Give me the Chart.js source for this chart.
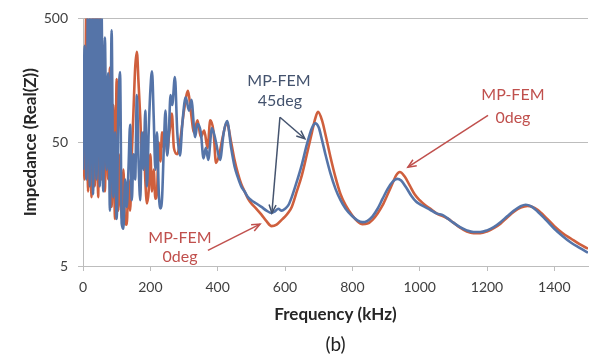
<!DOCTYPE html>
<html><head><meta charset="utf-8">
<script src="https://cdn.jsdelivr.net/npm/chart.js@4/dist/chart.umd.min.js"></script>
<style>html,body{margin:0;padding:0;background:#fff;}#wrap{width:602px;height:361px;position:relative;}</style>
</head><body><div id="wrap"><canvas id="c"></canvas></div>
<script>
// ---- data ----
const freq0deg = [0,5,10,15,20,25,30,35,40,45,50,55,60,65,70,75,80,85,90,95,100,105,110,115,120,125,130,135,140,145,150,155,160,165,170,175,180,185,190,195,200,205,210,215,220,225,230,235,240,245,250,255,260,264,270,280,290,300,312,320,330,340,350,360,370,378,388,395,405,415,427,440,450,460,470,480,490,500,515,530,545,560,575,590,600,610,620,635,650,665,680,690,698,710,720,735,750,765,780,800,815,830,845,860,875,890,905,920,930,941,955,970,985,1000,1015,1030,1050,1070,1085,1100,1120,1140,1160,1180,1200,1220,1240,1260,1280,1300,1320,1335,1350,1375,1400,1425,1450,1475,1500];
const imp0deg = [50,25,700,20,500,18,800,22,600,18,900,25,300,20,150,25,200,15,100,12,162,14,40,12,30,11,10.8,25,14,40,90,200,269,150,80,40,60,25,16,20,40,20,30,17.5,20,50,35,60,45,60,40,55,70,85,45,40,55,90,130,90,60,75,55,62,45,75,60,34,40,55,72,50,36,28,23,20,17.5,16,14.5,13,11.5,10.5,10.8,11.8,12.5,13.5,15,20,27,40,60,78,88,75,58,38,26,19,15.5,12.8,11.5,10.9,11,11.8,13.3,15.5,19,23.5,27,28.7,26.5,22.5,19,17,15.6,14.6,13.3,12.6,12,11.2,10.2,9.5,9.2,9.2,9.5,10.1,11,12.3,13.7,14.8,15.3,15,14.2,12.3,10.5,9.2,8.3,7.5,6.9];
const freq45deg = [0,5,10,15,20,25,30,35,40,45,50,55,60,65,70,75,80,85,90,95,100,105,110,115,120,125,130,135,140,145,150,155,160,165,170,175,180,185,190,195,200,205,210,215,220,225,230,235,240,245,250,255,260,265,273,280,288,295,305,315,322,333,340,350,358,365,372,383,395,407,418,428,440,450,460,470,480,490,500,515,530,545,560,570,580,590,600,610,620,635,650,665,680,690,700,710,720,735,750,765,780,800,815,830,845,860,875,890,905,920,933,945,960,975,990,1000,1015,1030,1050,1070,1085,1100,1120,1140,1160,1180,1200,1220,1240,1260,1280,1300,1315,1330,1350,1375,1400,1425,1450,1475,1500];
const imp45deg = [30,300,25,800,22,900,19,700,25,1000,22,600,20,350,30,180,14,400,18,60,12,90,184,11,10,25,15,30,69,17,40,25,120,35,17,60,30,90,22,60,130,187,80,30,60,20,14.6,18,45,90,39,60,120,100,168,60,39,70,115,90,110,55,70,60,37,45,36,65,50,36,60,74,45,32,26,22,20,18,17,16,15,14,13.4,13.8,14.5,14,14.5,15.5,18,24,33,48,65,71,66,52,40,28,21,17,14.5,12.6,11.7,11.3,11.6,12.6,14.5,17.5,21,24,25.3,24.5,21.5,18.5,16.5,15.8,15,14.3,13.3,12.8,12,11.2,10.3,9.7,9.4,9.4,9.7,10.3,11.3,12.6,14,15.2,15.6,15.2,13.8,11.8,10,8.7,7.7,7,6.4];
const xTicks = [0,200,400,600,800,1000,1200,1400];
const yTicks = [5,50,500];
const seriesNames = ['MP-FEM 0deg','MP-FEM 45deg'];

// annotation texts and arrows, in data coordinates
const noteTexts = [
  {t:'MP-FEM', x:288, y:8.47, c:'#c0504d'}, {t:'0deg', x:288, y:5.89, c:'#c0504d'},
  {t:'MP-FEM', x:582, y:156, c:'#44536e'}, {t:'45deg', x:585, y:108, c:'#44536e'},
  {t:'MP-FEM', x:1277, y:121, c:'#c0504d'}, {t:'0deg', x:1277, y:78, c:'#c0504d'}
];
const noteArrows = [
  {x1:371, y1:6.69, x2:526, y2:10.9, c:'#c0504d'},
  {x1:585, y1:79.6, x2:561, y2:13.4, c:'#44536e'},
  {x1:585, y1:79.6, x2:659, y2:53.3, c:'#44536e'},
  {x1:1203, y1:82.4, x2:965, y2:31.4, c:'#c0504d'}
];

const pts = (fx, vy) => fx.map((f, i) => ({x: f, y: vy[i]}));

const notesPlugin = {
  id: 'notes',
  afterDatasetsDraw(chart) {
    const {ctx, scales: {x, y}} = chart;
    ctx.save();
    ctx.font = '16px Lato, "Open Sans", sans-serif';
    ctx.textAlign = 'center';
    ctx.textBaseline = 'middle';
    noteTexts.forEach(n => { ctx.fillStyle = n.c; ctx.fillText(n.t, x.getPixelForValue(n.x), y.getPixelForValue(n.y)); });
    noteArrows.forEach(a => {
      const x1 = x.getPixelForValue(a.x1), y1 = y.getPixelForValue(a.y1);
      const x2 = x.getPixelForValue(a.x2), y2 = y.getPixelForValue(a.y2);
      ctx.strokeStyle = a.c; ctx.lineWidth = 1.5;
      ctx.beginPath(); ctx.moveTo(x1, y1); ctx.lineTo(x2, y2); ctx.stroke();
      const ang = Math.atan2(y2 - y1, x2 - x1), L = 9;
      ctx.beginPath();
      ctx.moveTo(x2 - L * Math.cos(ang - 0.4), y2 - L * Math.sin(ang - 0.4));
      ctx.lineTo(x2, y2);
      ctx.lineTo(x2 - L * Math.cos(ang + 0.4), y2 - L * Math.sin(ang + 0.4));
      ctx.stroke();
    });
    ctx.fillStyle = '#222';
    ctx.font = '19px Lato, "Open Sans", sans-serif';
    ctx.fillText('(b)', (chart.chartArea.left + chart.chartArea.right) / 2, 345);
    ctx.restore();
  }
};

new Chart(document.getElementById('c'), {
  type: 'line',
  data: {
    datasets: [
      {label: seriesNames[1], data: pts(freq45deg, imp45deg), borderColor: '#5574a8', borderWidth: 2.6, order: 0},
      {label: seriesNames[0], data: pts(freq0deg, imp0deg), borderColor: '#cf5f3d', borderWidth: 2.6, order: 1}
    ]
  },
  options: {
    responsive: true, maintainAspectRatio: false, animation: false,
    layout: {padding: {top: 13, right: 14, left: 0, bottom: 0}},
    elements: {point: {radius: 0}, line: {cubicInterpolationMode: 'monotone', fill: false}},
    datasets: {line: {clip: 0}},
    plugins: {legend: {display: false}, tooltip: {enabled: false}},
    scales: {
      x: {
        type: 'linear', min: 0, max: 1500,
        afterBuildTicks: s => { s.ticks = xTicks.map(v => ({value: v})); },
        afterFit: s => { s.height = 95; },
        ticks: {font: {family: 'Lato', size: 14}, color: '#404040', padding: 8, maxRotation: 0, callback: v => String(v)},
        grid: {drawOnChartArea: false, drawTicks: true, tickLength: 5, color: '#bdbdbd'},
        border: {display: true, color: '#bdbdbd'},
        title: {display: true, text: 'Frequency (kHz)', font: {family: 'Lato', size: 17, weight: 'bold'}, color: '#262626', padding: {top: 0, bottom: 36}}
      },
      y: {
        type: 'logarithmic', min: 5, max: 500,
        afterBuildTicks: s => { s.ticks = yTicks.map(v => ({value: v})); },
        afterFit: s => { s.width = 83; },
        ticks: {font: {family: 'Lato', size: 14}, color: '#404040', padding: 10, callback: v => String(v)},
        grid: {drawTicks: true, tickLength: 5, color: '#bdbdbd'},
        border: {display: true, color: '#bdbdbd'},
        title: {display: true, text: 'Impedance (Real(Z))', font: {family: 'Lato', size: 17, weight: 'bold'}, color: '#262626', padding: {top: 20, bottom: 0}}
      }
    }
  },
  plugins: [notesPlugin]
});
</script></body></html>
